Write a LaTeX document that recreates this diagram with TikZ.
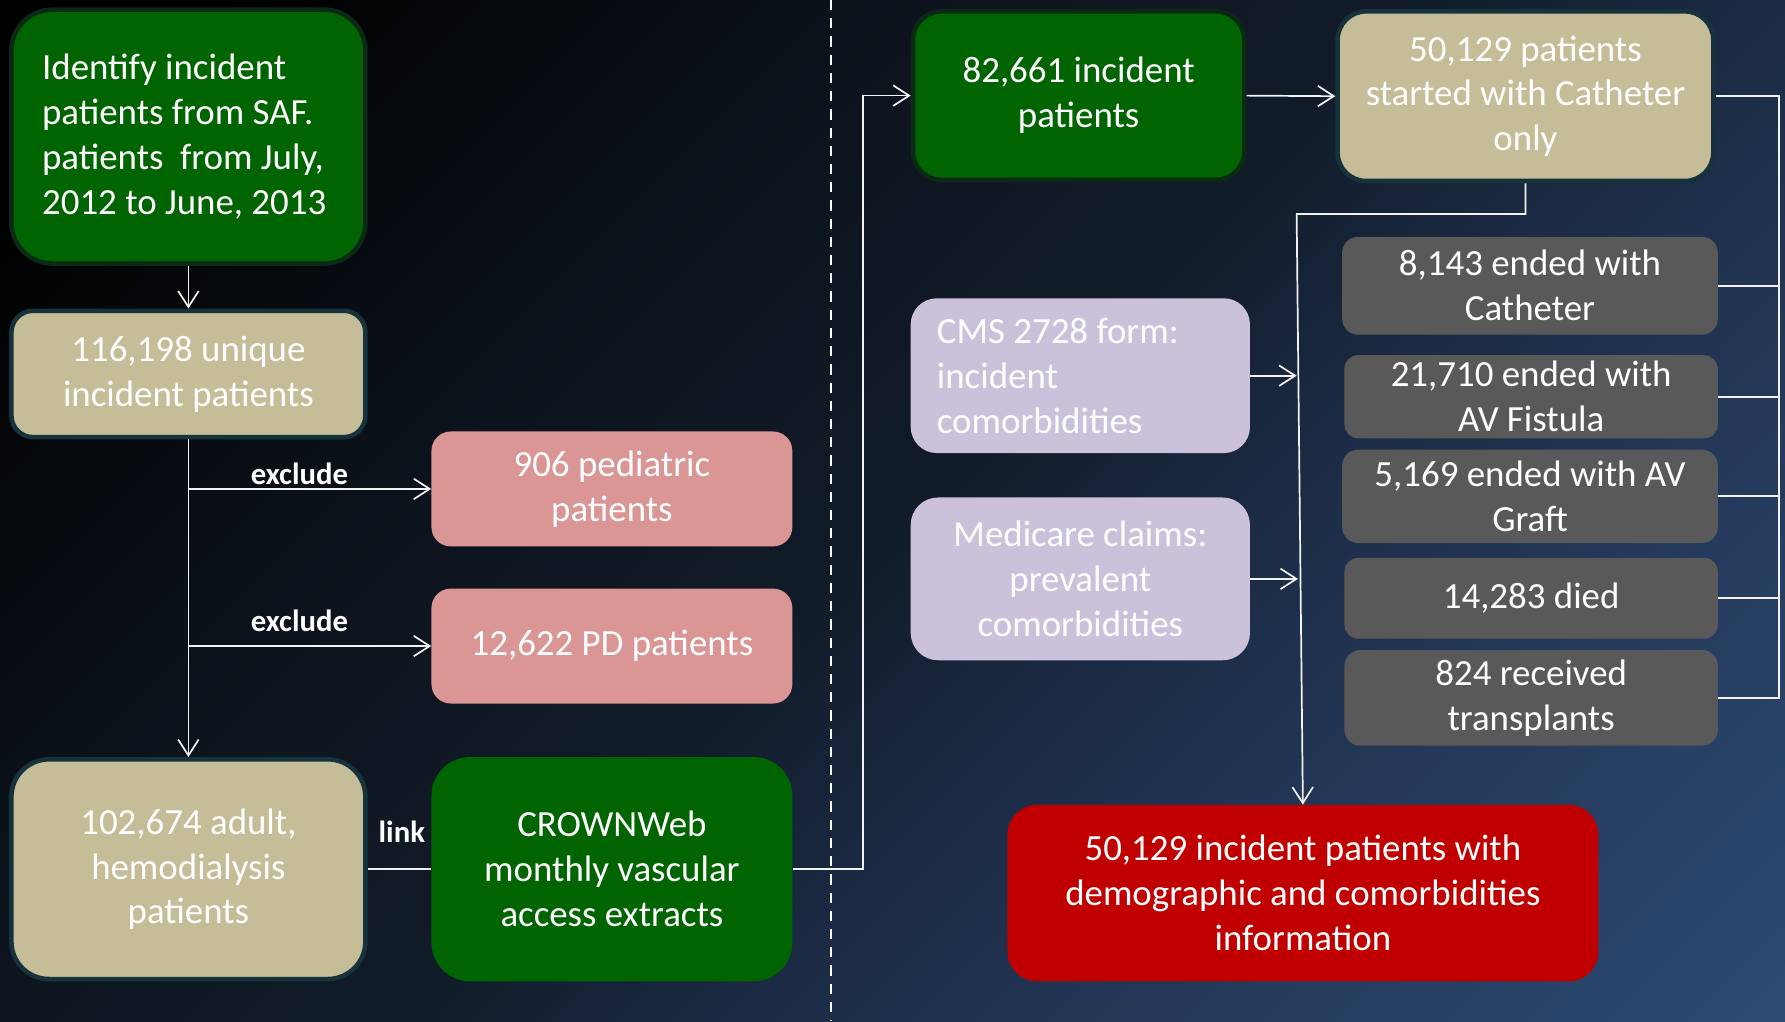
\documentclass[tikz,border=0pt]{standalone}
\usepackage{fontspec}
\setmainfont{Carlito}
\usetikzlibrary{arrows.meta}
\definecolor{dgreen}{RGB}{0,100,0}
\definecolor{tanb}{RGB}{196,189,151}
\definecolor{pinkb}{RGB}{217,150,148}
\definecolor{lav}{RGB}{204,193,218}
\definecolor{grayb}{RGB}{89,89,89}
\definecolor{redb}{RGB}{192,0,0}
\definecolor{bdgreen}{RGB}{10,42,22}
\definecolor{bdteal}{RGB}{22,50,60}
\definecolor{linecol}{RGB}{242,242,242}
\definecolor{bgA}{RGB}{11,17,25}
\definecolor{bgB}{RGB}{17,27,40}
\definecolor{bgC}{RGB}{28,44,70}
\definecolor{bgD}{RGB}{36,57,90}
\definecolor{bgE}{RGB}{51,91,138}
\pgfdeclarehorizontalshading{bgshade}{100bp}{color(0bp)=(black); color(20bp)=(black); color(35bp)=(bgA); color(50bp)=(bgB); color(60bp)=(bgC); color(70bp)=(bgD); color(100bp)=(bgE)}
\newcommand\boxfont{\fontsize{32.4}{39.5}\selectfont}
\newcommand\lblfont{\fontsize{27}{32}\selectfont\bfseries}

\begin{document}
\begin{tikzpicture}[x=1pt,y=-1pt,
  box/.style={rectangle, inner sep=0pt, text=white, align=center, font=\boxfont},
  conn/.style={draw=linecol, line width=1.5pt},
  arr/.style={conn, -{Straight Barb[length=14pt,width=18pt]}},
  lbl/.style={text=white, font=\lblfont, inner sep=0pt},
  dashline/.style={draw=white, line width=2pt, dash pattern=on 9pt off 7pt},
]
\shade[shading=bgshade, shading angle=-45] (0,0) rectangle (1568,897);
\useasboundingbox (0,0) rectangle (1568,897);

% left column
\node[box, fill=dgreen, draw=bdgreen, line width=4pt, rounded corners=36pt,
  minimum width=311pt, minimum height=223pt, text width=257pt, align=flush left]
  (ident) at (165.5,120) {\mbox{Identify incident}\\ \mbox{patients from SAF.}\\ \mbox{patients\ \ from July,}\\ \mbox{2012 to June, 2013}};
\node[box, fill=tanb, draw=bdteal, line width=4pt, rounded corners=19pt,
  minimum width=311pt, minimum height=111pt]
  (uniq) at (165.5,328.5) {116,198 unique\\ incident patients};
\node[box, fill=pinkb, rounded corners=17pt, minimum width=317pt, minimum height=101pt]
  (ped) at (537.5,429.5) {906 pediatric\\ patients};
\node[box, fill=pinkb, rounded corners=17pt, minimum width=317pt, minimum height=101pt]
  (pd) at (537.5,567.5) {12,622 PD patients};
\node[box, fill=tanb, draw=bdteal, line width=4pt, rounded corners=33pt,
  minimum width=311pt, minimum height=193pt]
  (adult) at (165.5,763.5) {102,674 adult,\\ hemodialysis\\ patients};
\node[box, fill=dgreen, rounded corners=34pt, minimum width=317pt, minimum height=197pt]
  (crown) at (537.5,763.5) {CROWNWeb\\ monthly vascular\\ access extracts};

% right part
\node[box, fill=dgreen, draw=bdgreen, line width=4pt, rounded corners=25pt,
  minimum width=291pt, minimum height=148pt]
  (inc) at (947.5,84) {82,661 incident\\ patients};
\node[box, fill=tanb, draw=bdteal, line width=4pt, rounded corners=25pt,
  minimum width=330pt, minimum height=149pt]
  (cath) at (1340,84.5) {50,129 patients\\ started with Catheter\\ only};
\node[box, fill=lav, rounded corners=23pt, minimum width=298pt, minimum height=136pt,
  text width=252pt, align=flush left]
  (cms) at (949,330) {CMS 2728 form:\\ incident\\ comorbidities};
\node[box, fill=lav, rounded corners=24pt, minimum width=298pt, minimum height=143pt]
  (medi) at (949,508.5) {Medicare claims:\\ prevalent\\ comorbidities};
\node[box, fill=grayb, rounded corners=14pt, minimum width=330pt, minimum height=86pt]
  (g1) at (1344,251) {8,143 ended with\\ Catheter};
\node[box, fill=grayb, rounded corners=12pt, minimum width=328pt, minimum height=73pt]
  (g2) at (1345,348.5) {21,710 ended with\\ AV Fistula};
\node[box, fill=grayb, rounded corners=14pt, minimum width=330pt, minimum height=82pt]
  (g3) at (1344,436) {5,169 ended with AV\\ Graft};
\node[box, fill=grayb, rounded corners=12pt, minimum width=328pt, minimum height=71pt]
  (g4) at (1345,525.5) {14,283 died};
\node[box, fill=grayb, rounded corners=14pt, minimum width=328pt, minimum height=84pt]
  (g5) at (1345,613) {824 received\\ transplants};
\node[box, fill=redb, rounded corners=26pt, minimum width=519pt, minimum height=155pt]
  (red) at (1144.5,784.5) {50,129 incident patients with\\ demographic and comorbidities\\ information};

% dashed divider
\draw[dashline] (730,0) -- (730,897);

% connectors left
\draw[arr] (ident.south) -- (uniq.north);
\draw[arr] (uniq.south) -- (adult.north);
\draw[arr] (uniq.south |- ped.west) -- (ped.west);
\draw[arr] (uniq.south |- pd.west) -- (pd.west);
\node[lbl] (ex1) at (263,416) {exclude};
\node[lbl] (ex2) at (263,545) {exclude};
\draw[conn] (adult.east) -- (crown.west);
\node[lbl] (lk) at (353,731) {link};
\draw[arr] (crown.east) -- ++(62,0) |- (inc.west);

% connectors right
\draw[arr] (inc.east) -- (cath.west);
\coordinate (jn) at (1139,188);
\draw[arr] (cath.south) |- (jn) -- (red.north);
\draw[arr] (cms.east) -- (cms.east -| jn);
\draw[arr] (medi.east) -- ++(42,0);
\coordinate (rb) at (1563,84);
\draw[conn] (cath.east) -- (cath.east -| rb) -- (rb |- g5.east) -- (g5.east);
\draw[conn] (g1.east) -- (g1.east -| rb);
\draw[conn] (g2.east) -- (g2.east -| rb);
\draw[conn] (g3.east) -- (g3.east -| rb);
\draw[conn] (g4.east) -- (g4.east -| rb);
\end{tikzpicture}
\end{document}
